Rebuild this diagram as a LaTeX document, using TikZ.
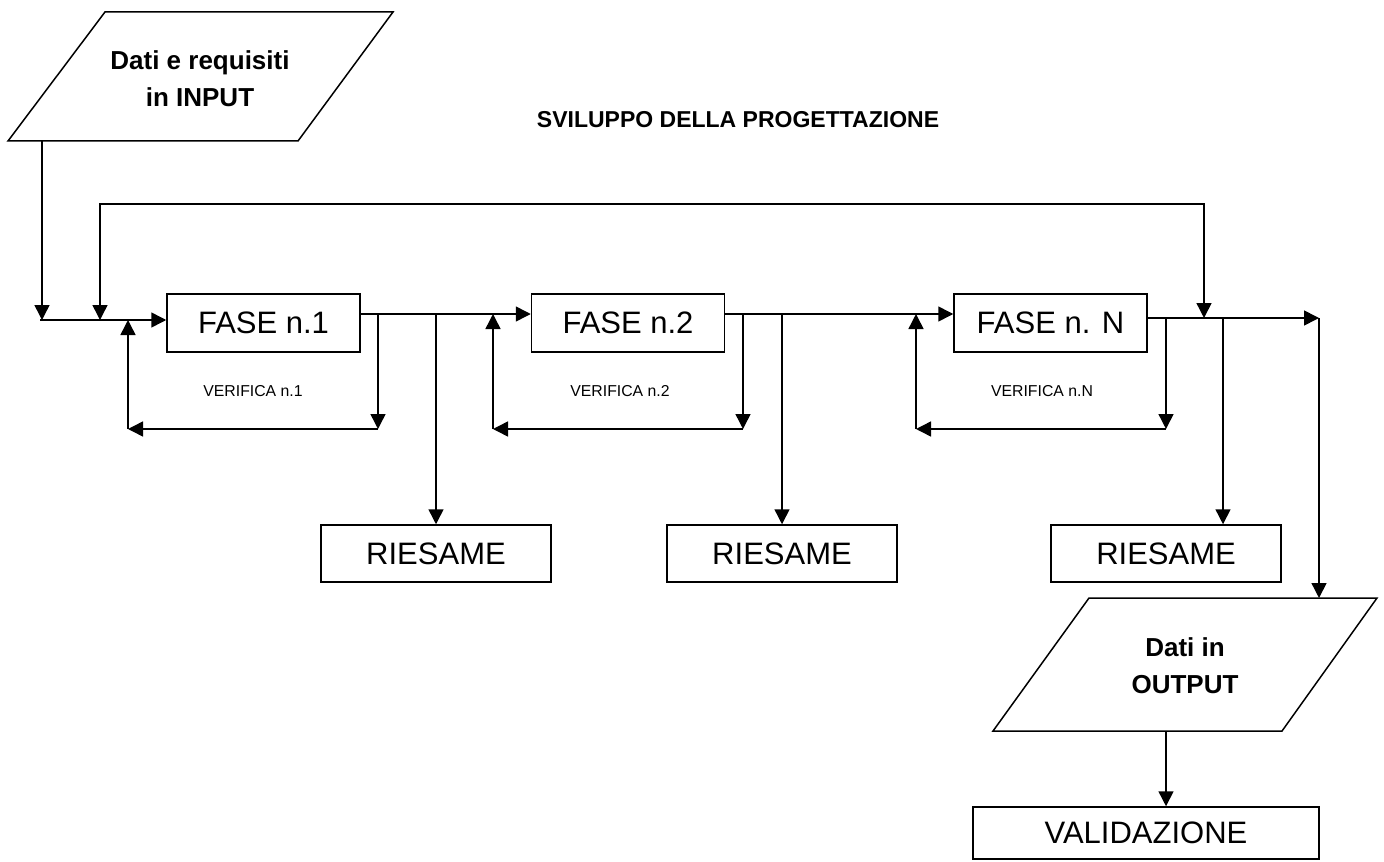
\documentclass[tikz,border=0pt]{standalone}
\usepackage{fontspec}
\setmainfont{Liberation Sans}
\usetikzlibrary{arrows.meta,calc}
\tikzset{
  ln/.style={line width=0.75pt},
  fase/.style={draw,ln,inner sep=0pt,minimum width=96.5pt,minimum height=29pt,
               font=\fontsize{15.5}{18}\selectfont},
  ries/.style={fase,minimum width=115pt,minimum height=28.5pt},
  valid/.style={fase,minimum width=173pt,minimum height=26pt},
  dati/.style={align=center,inner sep=0pt,font=\fontsize{13}{18.5}\selectfont\bfseries},
  verif/.style={inner sep=0pt,font=\fontsize{7.9}{9}\selectfont},
  ttl/.style={inner sep=0pt,font=\fontsize{11.5}{14}\selectfont\bfseries},
  arr/.style={ln,-{Triangle[length=7.5pt,width=7.5pt]}},
  arrb/.style={ln,{Triangle[length=7.5pt,width=7.5pt]}-{Triangle[length=7.5pt,width=7.5pt]}},
}
\begin{document}
\begin{tikzpicture}[x=0.5pt,y=-0.5pt]
\useasboundingbox (0,0) rectangle (1384,861);
% input data
\draw[ln] (105,12) -- (393,12) -- (298,141) -- (8,141) -- cycle;
\node[dati] (inp) at (200,79) {Dati e requisiti\\in INPUT};
\node[ttl] (titolo) at (738,120) {SVILUPPO DELLA PROGETTAZIONE};
% phases
\node[fase] (f1) at (263.5,323) {FASE n.1};
\node[fase] (f2) at (628,323) {FASE n.2};
\node[fase] (fn) at (1050.5,323) {FASE n. N};
\node[ries] (r1) at (436,553.5) {RIESAME};
\node[ries] (r2) at (782,553.5) {RIESAME};
\node[ries] (r3) at (1166,553.5) {RIESAME};
\node[verif] (v1) at (253,391) {VERIFICA n.1};
\node[verif] (v2) at (620,391) {VERIFICA n.2};
\node[verif] (vn) at (1042,391) {VERIFICA n.N};
% output data
\draw[ln] (1089,598) -- (1377,598) -- (1282,731) -- (993,731) -- cycle;
\node[dati] (outp) at (1185,666) {Dati in\\OUTPUT};
\node[valid] (val) at (1146,833) {VALIDAZIONE};
\coordinate (inb) at (42,141);
\coordinate (start) at (40,320);
\coordinate (e1) at ($(f1.east)+(0,-9)$);
\coordinate (e2) at ($(f2.east)+(0,-9)$);
\coordinate (en) at ($(fn.east)+(0,-5)$);
\coordinate (fbl) at (100,204);
\coordinate (fbr) at (1204,204);
\coordinate (fine) at (1319,318);
\coordinate (outt) at (1319,598);
\coordinate (outb) at (1166,731);
\coordinate (v1r) at (378,429);
\coordinate (v1l) at (128,429);
\coordinate (v2r) at (743,429);
\coordinate (v2l) at (493,429);
\coordinate (vnr) at (1166,429);
\coordinate (vnl) at (916,429);
% main flow
\draw[arr] (inb) -- (inb |- start);
\draw[arr] (start) -- (start -| f1.west);
\draw[arrb] (fbl |- start) -- (fbl) -- (fbr) -- (fbr |- en);
\draw[arr] (e1) -- (e1 -| f2.west);
\draw[arr] (e2) -- (e2 -| fn.west);
\draw[arr] (en) -- (fine);
\draw[arr] (fine) -- (outt);
\draw[arr] (outb) -- (outb |- val.north);
% verification loops
\draw[arr] (v1r |- e1) -- (v1r);
\draw[arr] (v1r) -- (v1l);
\draw[arr] (v1l) -- (v1l |- start);
\draw[arr] (v2r |- e2) -- (v2r);
\draw[arr] (v2r) -- (v2l);
\draw[arr] (v2l) -- (v2l |- e1);
\draw[arr] (vnr |- en) -- (vnr);
\draw[arr] (vnr) -- (vnl);
\draw[arr] (vnl) -- (vnl |- e2);
% reviews
\draw[arr] (e1 -| r1.north) -- (r1.north);
\draw[arr] (e2 -| r2.north) -- (r2.north);
\draw[arr] (en -| 1223,0) -- (r3.north -| 1223,0);
\end{tikzpicture}
\end{document}
